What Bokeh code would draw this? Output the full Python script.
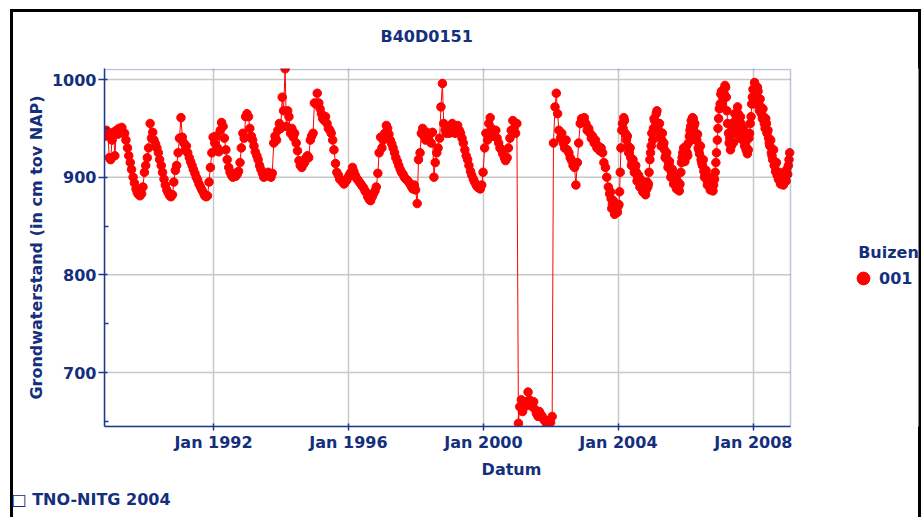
import calendar
import datetime as dt

from bokeh.plotting import figure
from bokeh.models import (Range1d, FixedTicker, DatetimeTickFormatter,
                          ColumnDataSource, Legend, LegendItem, Title,
                          BoxAnnotation)
from bokeh.embed import file_html
from bokeh.resources import INLINE

# ---------------- data ----------------
title_text = "B40D0151"
series_name = "001"
legend_title = "Buizen"
footer_text = "\u25a1 TNO-NITG 2004"

# semi-monthly readings (14th and 28th of each month)
y1988 = [942, 948, 945, 920, 918, 938]  # from October
y1989 = [946, 922, 948, 944, 950, 946, 951, 945, 945, 938, 930, 922,
         915, 908, 900, 894, 888, 884, 882, 881, 883, 890, 905, 912]
y1990 = [920, 930, 955, 940, 946, 938, 934, 930, 925, 918, 912, 905,
         898, 892, 887, 884, 881, 880, 882, 895, 907, 912, 925, 940]
y1991 = [961, 941, 935, 928, 932, 925, 920, 916, 912, 908, 904, 900,
         897, 893, 890, 887, 884, 881, 880, 881, 895, 910, 925, 941]
y1992 = [935, 942, 930, 926, 948, 956, 952, 940, 928, 918, 910, 905,
         902, 900, 904, 901, 903, 906, 915, 930, 945, 940, 962, 965]
y1993 = [962, 950, 942, 938, 932, 926, 922, 918, 912, 908, 904, 900,
         901, 903, 905, 901, 900, 904, 935, 942, 938, 948, 955, 950]
y1994 = [982, 968, 1011, 952, 968, 962, 945, 950, 941, 945, 935, 927,
         917, 912, 910, 913, 915, 920, 922, 920, 938, 942, 945, 976]
y1995 = [975, 986, 976, 970, 965, 960, 958, 962, 955, 950, 948, 945,
         938, 928, 914, 905, 902, 898, 897, 895, 893, 895, 897, 900]
y1996 = [903, 905, 910, 906, 902, 899, 897, 895, 893, 891, 889, 886,
         884, 880, 877, 876, 880, 883, 886, 890, 904, 925, 941, 930]
y1997 = [938, 945, 953, 950, 944, 938, 934, 930, 925, 920, 916, 912,
         908, 905, 903, 900, 898, 897, 895, 893, 890, 888, 892, 887]
y1998 = [873, 918, 925, 945, 950, 942, 938, 946, 940, 944, 935, 946,
         900, 915, 925, 930, 940, 972, 996, 955, 948, 945, 950, 945]
y1999 = [952, 955, 948, 945, 950, 953, 948, 945, 940, 935, 928, 922,
         918, 912, 906, 902, 898, 895, 892, 890, 889, 888, 892, 905]
y2000 = [930, 945, 938, 955, 961, 950, 942, 945, 948, 940, 935, 930,
         928, 924, 920, 917, 920, 930, 940, 948, 958, 950, 945, 955]
y2001 = [648, 665, 672, 660, 668, 670, 666, 680, 672, 668, 665, 670,
         662, 658, 655, 660, 657, 655, 652, 650, 648, 646, 651, 649]
y2002 = [655, 935, 972, 986, 965, 948, 940, 945, 935, 930, 938, 928,
         925, 920, 917, 912, 910, 892, 915, 935, 955, 960, 958, 961]
y2003 = [955, 948, 950, 945, 940, 942, 935, 938, 930, 932, 927, 930,
         925, 915, 910, 900, 890, 883, 878, 872, 868, 865, 866, 870]
y2004 = [885, 930, 955, 961, 945, 938, 932, 925, 920, 915, 912, 908,
         905, 900, 898, 895, 893, 890, 888, 887, 890, 905, 925, 945]
y2005 = [950, 958, 965, 955, 948, 942, 938, 932, 928, 922, 918, 914,
         910, 905, 902, 898, 895, 892, 890, 893, 915, 925, 922, 928]
y2006 = [925, 935, 948, 958, 961, 952, 945, 938, 930, 924, 918, 912,
         906, 902, 898, 895, 893, 891, 890, 892, 905, 925, 950, 970]
y2007 = [985, 975, 990, 994, 982, 955, 935, 928, 948, 935, 965, 950,
         972, 948, 962, 942, 950, 932, 928, 924, 940, 955, 975, 990]
y2008 = [997, 985, 992, 975, 980, 965, 970, 955, 960, 945, 940, 932,
         925, 918, 912, 906, 902, 898, 896, 894, 895, 897, 900, 908]
y2009 = [912, 925]

# extra logger readings (7th and 21st of each month), from Oct 2003
d2003 = [885, 868, 876, 862, 872, 864]  # from October
d2004 = [872, 905, 948, 950, 958, 944, 942, 925, 930, 912, 918, 905,
         912, 896, 902, 890, 897, 885, 893, 882, 895, 893, 918, 932]
d2005 = [938, 960, 952, 968, 948, 955, 932, 945, 935, 920, 925, 910,
         916, 900, 908, 893, 900, 888, 895, 886, 905, 920, 930, 916]
d2006 = [932, 922, 942, 952, 950, 960, 955, 938, 944, 928, 932, 915,
         918, 900, 907, 892, 900, 887, 897, 886, 898, 915, 938, 960]
d2007 = [975, 988, 980, 985, 992, 968, 945, 940, 932, 955, 945, 958,
         960, 965, 940, 955, 938, 945, 935, 930, 928, 945, 962, 982]
d2008 = [990, 975, 980, 988, 968, 972, 960, 962, 950, 955, 948, 935,
         938, 922, 928, 912, 915, 902, 905, 893, 900, 892, 905, 896]
d2009 = [903, 918]

# (year, first month, first day, second day, readings)
blocks = [(1988, 10, 14, 28, y1988), (1989, 1, 14, 28, y1989),
          (1990, 1, 14, 28, y1990), (1991, 1, 14, 28, y1991),
          (1992, 1, 14, 28, y1992), (1993, 1, 14, 28, y1993),
          (1994, 1, 14, 28, y1994), (1995, 1, 14, 28, y1995),
          (1996, 1, 14, 28, y1996), (1997, 1, 14, 28, y1997),
          (1998, 1, 14, 28, y1998), (1999, 1, 14, 28, y1999),
          (2000, 1, 14, 28, y2000), (2001, 1, 14, 28, y2001),
          (2002, 1, 14, 28, y2002), (2003, 1, 14, 28, y2003),
          (2004, 1, 14, 28, y2004), (2005, 1, 14, 28, y2005),
          (2006, 1, 14, 28, y2006), (2007, 1, 14, 28, y2007),
          (2008, 1, 14, 28, y2008), (2009, 1, 14, 28, y2009),
          (2003, 10, 7, 21, d2003), (2004, 1, 7, 21, d2004),
          (2005, 1, 7, 21, d2005), (2006, 1, 7, 21, d2006),
          (2007, 1, 7, 21, d2007), (2008, 1, 7, 21, d2008),
          (2009, 1, 7, 21, d2009)]

tick_years = [1992, 1996, 2000, 2004, 2008]
y_major = [700, 800, 900, 1000]
y_minor = [650, 750, 850, 950]
x_start, x_end = dt.datetime(1988, 10, 8), dt.datetime(2009, 2, 6)
y_low, y_high = 644.7, 1010.3

rows = []
for year, m0, da, db, vals in blocks:
    for k, v in enumerate(vals):
        rows.append((dt.datetime(year, m0 + k // 2, da if k % 2 == 0 else db), v))
rows.sort()
dates = [r[0] for r in rows]
levels = [r[1] for r in rows]

src = ColumnDataSource(data=dict(date=dates, level=levels))


def ms(d):
    return calendar.timegm(d.timetuple()) * 1000.0


NAVY = "#142f7c"
AXIS = "#1e3a8a"
FONT = "DejaVu Sans"

# plot area is 686 px wide; the canvas frame is widened by 128 px on the
# right so that the legend (drawn inside the frame) is not clipped
PLOT_W, EXTRA_W, PLOT_H = 686.0, 128.0, 357.0
span = ms(x_end) - ms(x_start)
frame_x_end = ms(x_end) + span * EXTRA_W / PLOT_W
frame_y_high = y_high + (y_high - y_low) * 1.0 / PLOT_H

p = figure(width=921, height=517, x_axis_type="datetime",
           output_backend="svg", toolbar_location=None,
           x_range=Range1d(ms(x_start), frame_x_end),
           y_range=Range1d(y_low, frame_y_high),
           min_border_left=104, min_border_top=68,
           min_border_right=3, min_border_bottom=91)
# black frame round the picture, open at the bottom (drawn behind the canvas)
bar = "linear-gradient(#000,#000)"
p.styles = {"background": (f"{bar} 10px 9px / 911px 3px no-repeat, "
                           f"{bar} 10px 9px / 3px 508px no-repeat, "
                           f"{bar} 918px 9px / 3px 508px no-repeat, #ffffff")}
p.background_fill_color = "white"
p.border_fill_alpha = 0
p.outline_line_color = None

p.title.text = title_text
p.title.align = "left"
p.title.offset = 276
p.title.standoff = 45
p.title.text_font = FONT
p.title.text_font_size = "16px"
p.title.text_font_style = "bold"
p.title.text_color = NAVY

# horizontal grid lines, limited to the plot area
p.ygrid.visible = False
p.segment(x0=[ms(x_start)] * len(y_major), x1=[ms(x_end)] * len(y_major),
          y0=y_major, y1=y_major, line_color="#c8c8c8", line_width=1.5)

p.line("date", "level", source=src, color="red", line_width=1)
pts = p.scatter("date", "level", source=src, marker="circle", size=8.5,
                fill_color="red", line_color="red")

# plot-area outline
p.add_layout(BoxAnnotation(left=ms(x_start), right=ms(x_end),
                           bottom=y_low, top=y_high, fill_alpha=0,
                           line_color=AXIS, line_width=1.5))

xt = FixedTicker(ticks=[ms(dt.datetime(y, 1, 1)) for y in tick_years],
                 minor_ticks=[])
p.xaxis.ticker = xt
p.xgrid.ticker = xt
p.xaxis.bounds = (ms(x_start), ms(x_end))
fmt = "%b %Y"
p.xaxis.formatter = DatetimeTickFormatter(years=fmt, months=fmt, days=fmt,
                                          hours=fmt, minutes=fmt, seconds=fmt,
                                          milliseconds=fmt, microseconds=fmt,
                                          hourmin=fmt, minsec=fmt)
p.yaxis.ticker = FixedTicker(ticks=y_major, minor_ticks=y_minor)

for ax in (p.xaxis[0], p.yaxis[0]):
    ax.axis_line_color = AXIS
    ax.axis_line_width = 1.5
    ax.major_tick_line_color = AXIS
    ax.major_tick_line_width = 1.5
    ax.minor_tick_line_color = AXIS
    ax.minor_tick_line_width = 1.5
    ax.major_tick_in = 3
    ax.minor_tick_in = 4
    ax.minor_tick_out = 0
    ax.major_label_text_font = FONT
    ax.major_label_text_font_size = "16px"
    ax.major_label_text_font_style = "bold"
    ax.major_label_text_color = NAVY
    ax.axis_label_text_font = FONT
    ax.axis_label_text_font_size = "16px"
    ax.axis_label_text_font_style = "bold"
    ax.axis_label_text_color = NAVY

p.xaxis.axis_label = "Datum"
p.yaxis.axis_label = "Grondwaterstand (in cm tov NAP)"
p.xaxis.major_tick_out = 4
p.yaxis.major_tick_out = 6
p.xaxis.major_label_standoff = 2
p.yaxis.major_label_standoff = 2
p.xaxis.axis_label_standoff = 5
p.yaxis.axis_label_standoff = 3

p.xgrid.grid_line_color = "#c8c8c8"
p.xgrid.grid_line_width = 1.5

# legend at the right of the plot area
legend = Legend(items=[LegendItem(label=series_name, renderers=[pts])],
                title="\u00a0\u00a0" + legend_title,
                location=(743, 132), orientation="vertical",
                padding=0, margin=0, spacing=0,
                glyph_width=32, glyph_height=32, label_standoff=-2,
                title_standoff=0,
                border_line_alpha=0, background_fill_alpha=0,
                label_text_font=FONT, label_text_font_size="16px",
                label_text_font_style="bold", label_text_color=NAVY,
                title_text_font=FONT, title_text_font_size="16px",
                title_text_font_style="bold", title_text_color=NAVY)
p.add_layout(legend)

# footer below the x axis
p.add_layout(Title(text=footer_text, align="left", offset=-93, standoff=12,
                   text_font=FONT, text_font_size="16px",
                   text_font_style="bold", text_color=NAVY), "below")

open("out.html", "w").write(file_html(p, INLINE))
